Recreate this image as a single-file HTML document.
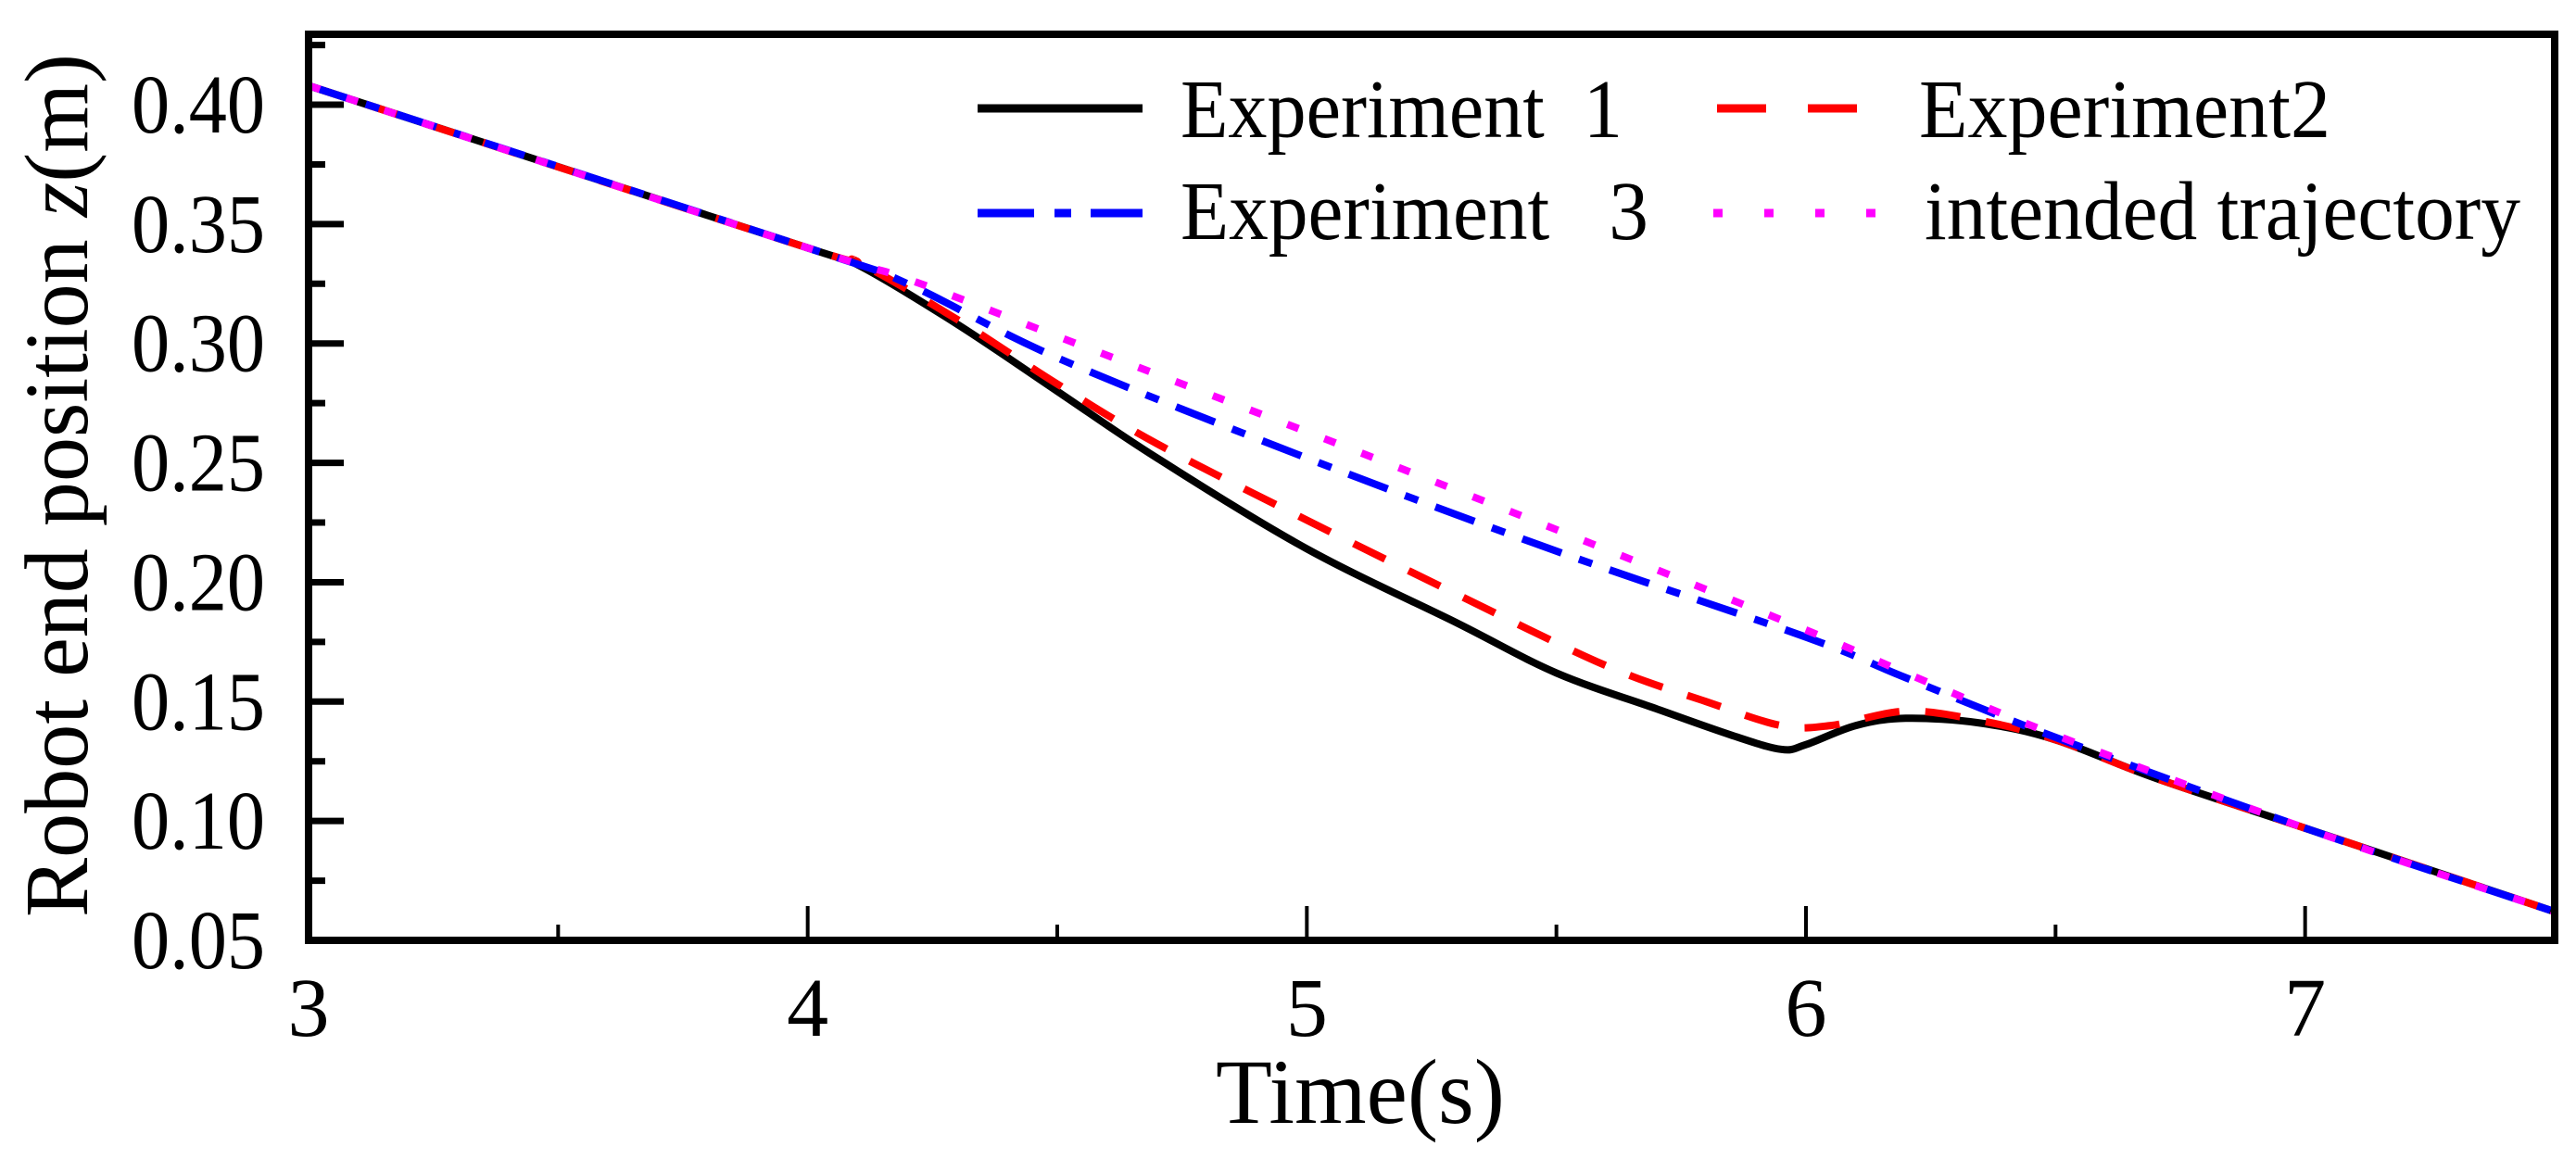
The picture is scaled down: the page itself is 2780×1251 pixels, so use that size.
<!DOCTYPE html>
<html><head><meta charset="utf-8"><style>
html,body{margin:0;padding:0;background:#fff;}
svg{display:block;font-family:"Liberation Serif",serif;}
</style></head><body>
<svg id="chart" width="2780" height="1251" viewBox="0 0 2780 1251" xmlns="http://www.w3.org/2000/svg">
<g id="marks"></g>
<g id="axes"></g>
<g id="legend">
  <line x1="1055" y1="117" x2="1233" y2="117" stroke="#000" stroke-width="9"/>
  <text x="1274" y="148" font-size="90" textLength="477" lengthAdjust="spacingAndGlyphs" xml:space="preserve">Experiment  1</text>
  <line x1="1853" y1="117" x2="2004" y2="117" stroke="#f00" stroke-width="9" stroke-dasharray="53,45"/>
  <text x="2071" y="148" font-size="90" textLength="444" lengthAdjust="spacingAndGlyphs">Experiment2</text>
  <line x1="1055" y1="230" x2="1233" y2="230" stroke="#00f" stroke-width="9" stroke-dasharray="61,22,18,21"/>
  <text x="1274" y="258" font-size="90" textLength="505" lengthAdjust="spacingAndGlyphs" xml:space="preserve">Experiment   3</text>
  <line x1="1849" y1="230" x2="2029" y2="230" stroke="#f0f" stroke-width="9" stroke-dasharray="10,45"/>
  <text x="2077" y="258" font-size="90" textLength="643" lengthAdjust="spacingAndGlyphs">intended trajectory</text>
</g>
</svg>
<script>
const xTicks = [3,4,5,6,7];
const xMinor = [3.5,4.5,5.5,6.5,7.5];
const yTicks = [0.05,0.10,0.15,0.20,0.25,0.30,0.35,0.40];
const yTickLabels = ["0.05","0.10","0.15","0.20","0.25","0.30","0.35","0.40"];
const yMinor = [0.075,0.125,0.175,0.225,0.275,0.325,0.375,0.425];
const tIntended = [3,4,4.2,4.5,5,5.5,6,6.2,6.5,7,7.5];
const zIntended = [0.408,0.340,0.327,0.303,0.263,0.222,0.180,0.162,0.136,0.097,0.062];
const tExp3 = [3,4,4.2,4.5,5,5.5,6,6.2,6.5,7,7.5];
const zExp3 = [0.408,0.340,0.325,0.294,0.252,0.213,0.177,0.160,0.135,0.097,0.062];
const tExp2 = [3,4,4.1,4.3,4.5,4.7,5,5.3,5.6,5.8,5.95,6.05,6.2,6.35,6.5,6.7,7,7.5];
const zExp2 = [0.408,0.340,0.334,0.310,0.283,0.258,0.226,0.195,0.165,0.150,0.140,0.140,0.146,0.142,0.134,0.118,0.097,0.062];
const tExp1 = [3,4,4.1,4.3,4.5,4.7,5,5.3,5.5,5.7,5.85,5.95,6.0,6.1,6.2,6.35,6.5,6.7,7,7.5];
const zExp1 = [0.408,0.340,0.333,0.308,0.280,0.252,0.214,0.183,0.162,0.147,0.136,0.130,0.132,0.140,0.143,0.141,0.134,0.118,0.097,0.062];

const X0=333, X1=2757, Y0=1015, Y1=37;
const xMin=3, xMax=7.5, yMin=0.05, yMax=0.4295;
const sx = v => X0 + (v-xMin)/(xMax-xMin)*(X1-X0);
const sy = v => Y0 - (v-yMin)/(yMax-yMin)*(Y0-Y1);
const NS="http://www.w3.org/2000/svg";
const marks=document.getElementById('marks'), axes=document.getElementById('axes');
function mk(tag,attrs,parent){const e=document.createElementNS(NS,tag);for(const k in attrs)e.setAttribute(k,attrs[k]);parent.appendChild(e);return e;}

function smoothPath(ts,zs){
  const P=ts.map((t,i)=>[sx(t),sy(zs[i])]);
  let d='M'+P[0][0].toFixed(1)+','+P[0][1].toFixed(1);
  for(let i=0;i<P.length-1;i++){
    const p0=P[Math.max(0,i-1)],p1=P[i],p2=P[i+1],p3=P[Math.min(P.length-1,i+2)];
    const c1=[p1[0]+(p2[0]-p0[0])/6,p1[1]+(p2[1]-p0[1])/6];
    const c2=[p2[0]-(p3[0]-p1[0])/6,p2[1]-(p3[1]-p1[1])/6];
    d+=' C'+c1[0].toFixed(1)+','+c1[1].toFixed(1)+' '+c2[0].toFixed(1)+','+c2[1].toFixed(1)+' '+p2[0].toFixed(1)+','+p2[1].toFixed(1);
  }
  return d;
}
function series(ts,zs,color,dash,name){
  const p=mk('path',{d:smoothPath(ts,zs),fill:'none',stroke:color,'stroke-width':8,'stroke-linejoin':'round'},marks);
  if(dash)p.setAttribute('stroke-dasharray',dash);
  
  
}
series(tExp1,zExp1,'#000',null,'series-experiment-1');
series(tExp2,zExp2,'#f00','38,28','series-experiment-2');
series(tExp3,zExp3,'#00f','45,20,15,20','series-experiment-3');
series(tIntended,zIntended,'#f0f','13,30','series-intended-trajectory');

const frame=mk('rect',{x:X0,y:Y1,width:X1-X0,height:Y0-Y1,fill:'none',stroke:'#000','stroke-width':8},axes);


xTicks.forEach(v=>{
  const l=mk('line',{x1:sx(v),x2:sx(v),y1:Y0,y2:Y0-37,stroke:'#000','stroke-width':4},axes);
  
  
  const t=mk('text',{x:sx(v),y:1118,'font-size':90,'text-anchor':'middle'},axes);
  t.textContent=String(v);
  
  
});
xMinor.forEach(v=>{
  const l=mk('line',{x1:sx(v),x2:sx(v),y1:Y0,y2:Y0-17,stroke:'#000','stroke-width':4},axes);
  
  
});
yTicks.forEach((v,i)=>{
  const l=mk('line',{x1:X0,x2:X0+38,y1:sy(v),y2:sy(v),stroke:'#000','stroke-width':7},axes);
  
  
  const t=mk('text',{x:142,y:sy(v)+30,'font-size':90,textLength:144,lengthAdjust:'spacingAndGlyphs'},axes);
  t.textContent=yTickLabels[i];
  
  
});
yMinor.forEach(v=>{
  const l=mk('line',{x1:X0,x2:X0+18,y1:sy(v),y2:sy(v),stroke:'#000','stroke-width':7},axes);
  
  
});
const xt=mk('text',{x:1312,y:1212,'font-size':100,textLength:312,lengthAdjust:'spacingAndGlyphs'},axes);
xt.textContent='Time(s)';


const yt=mk('text',{x:0,y:0,'font-size':98,'text-anchor':'middle',textLength:932,lengthAdjust:'spacingAndGlyphs',transform:'translate(94,524) rotate(-90)'},axes);
yt.innerHTML='Robot end position <tspan font-style="italic">z</tspan>(m)';


</script>
</body></html>
